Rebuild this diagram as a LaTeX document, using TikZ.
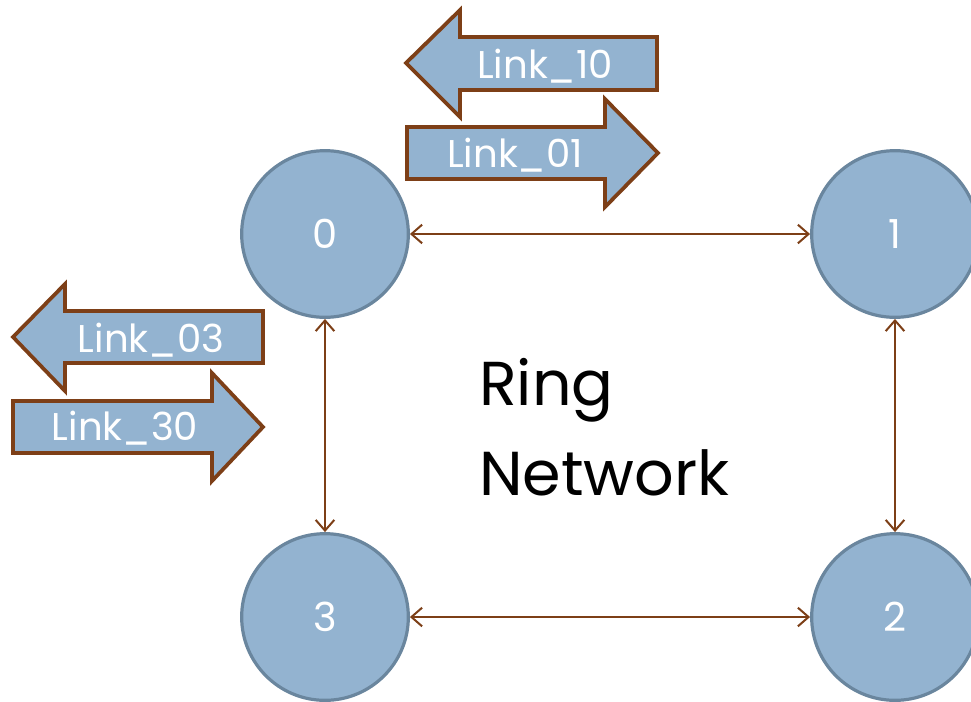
\documentclass[tikz,border=0pt]{standalone}
\usepackage{fontspec}
\setmainfont{Poppins}
\usetikzlibrary{arrows.meta}
\definecolor{nodefill}{HTML}{93B3D0}
\definecolor{nodeedge}{HTML}{6A869E}
\definecolor{linkbrown}{HTML}{7D3F17}
\tikzset{
  ringnode/.style={circle, fill=nodefill, draw=nodeedge, line width=2.4pt, minimum size=125pt, inner sep=0pt, text=white, font=\fontsize{30}{32}\selectfont},
  linkarrow/.style={fill=nodefill, draw=linkbrown, line width=2.8pt, line join=miter},
  linklabel/.style={text=white, inner sep=0pt, font=\fontsize{29}{32}\selectfont},
  ringlink/.style={draw=linkbrown, line width=1.5pt, {Straight Barb[length=8pt,width=14pt]}-{Straight Barb[length=8pt,width=14pt]}},
}
\begin{document}
\begin{tikzpicture}[x=0.75pt,y=-0.75pt]
\useasboundingbox (0,0) rectangle (971,701);
% nodes
\node[ringnode] (n0) at (325,234) {0};
\node[ringnode] (n1) at (895,234) {1};
\node[ringnode] (n2) at (895,617) {2};
\node[ringnode] (n3) at (325,617) {3};
% connectors
\draw[ringlink] (n0) -- (n1);
\draw[ringlink] (n1) -- (n2);
\draw[ringlink] (n2) -- (n3);
\draw[ringlink] (n3) -- (n0);
% link arrows
\draw[linkarrow] (406,63) -- (460,10) -- (460,37) -- (657,37) -- (657,90) -- (460,90) -- (460,117) -- cycle;
\node[linklabel] (l10) at (545,66) {Link\_10};
\draw[linkarrow] (407,127) -- (605,127) -- (605,99) -- (658,153) -- (605,207) -- (605,179) -- (407,179) -- cycle;
\node[linklabel] (l01) at (515,155) {Link\_01};
\draw[linkarrow] (13,337) -- (65,284) -- (65,311) -- (263,311) -- (263,363) -- (65,363) -- (65,391) -- cycle;
\node[linklabel] (l03) at (151,340) {Link\_03};
\draw[linkarrow] (13,401) -- (212,401) -- (212,373) -- (263,427) -- (212,481) -- (212,453) -- (13,453) -- cycle;
\node[linklabel] (l30) at (125,428) {Link\_30};
% title
\node[anchor=north west, align=left, inner sep=0pt, font=\fontsize{46.5}{67.5}\selectfont] (title) at (479,358) {Ring\\Network};
\end{tikzpicture}
\end{document}
